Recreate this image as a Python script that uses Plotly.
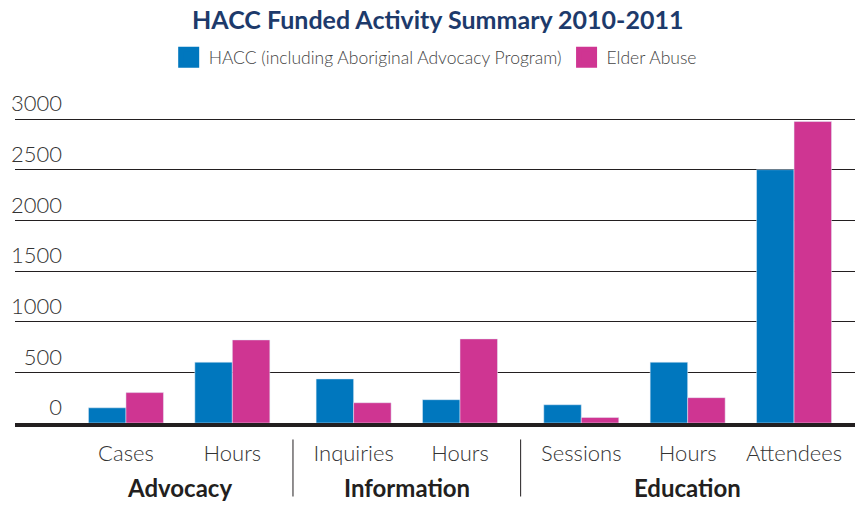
import plotly.graph_objects as go

# activity summary data
groups = ["Advocacy", "Advocacy", "Information", "Information", "Education", "Education", "Education"]
activities = ["Cases", "Hours", "Inquiries", "Hours", "Sessions", "Hours", "Attendees"]
hacc = [150, 600, 435, 230, 180, 600, 2500]
elder_abuse = [300, 820, 200, 830, 55, 250, 2975]
y_ticks = [0, 500, 1000, 1500, 2000, 2500, 3000]

blue = "#0077be"
pink = "#cf3592"
ink = "#231f20"

# x slots: one per activity, with a little extra room between groups
group_names = list(dict.fromkeys(groups))
group_gap = 0.14
xpos = [i + group_gap * group_names.index(g) for i, g in enumerate(groups)]

fig = go.Figure()
fig.add_trace(go.Bar(x=xpos, y=hacc, marker_color=blue, showlegend=False))
fig.add_trace(go.Bar(x=xpos, y=elder_abuse, marker_color=pink, showlegend=False))

# bigger legend squares (marker outline in the same colour makes them larger)
fig.add_trace(go.Scatter(x=[None], y=[None], mode="markers", name="HACC (including Aboriginal Advocacy Program)",
                         marker=dict(symbol="square", size=16, color=blue, line=dict(color=blue, width=5))))
fig.add_trace(go.Scatter(x=[None], y=[None], mode="markers", name="Elder Abuse",
                         marker=dict(symbol="square", size=16, color=pink, line=dict(color=pink, width=5))))

# group names under the activity labels, with dividers between groups
for gi, g in enumerate(group_names):
    members = [xpos[i] for i in range(len(groups)) if groups[i] == g]
    fig.add_annotation(x=sum(members) / len(members), y=-0.211, xref="x", yref="paper",
                       text="<b>" + g + "</b>", showarrow=False, yanchor="middle",
                       font=dict(size=24, color="#231f20", weight=700))
    if gi > 0:
        prev = [xpos[i] for i in range(len(groups)) if groups[i] == group_names[gi - 1]]
        xd = (max(prev) + min(members)) / 2
        fig.add_shape(type="line", xref="x", yref="paper", x0=xd, x1=xd, y0=-0.054, y1=-0.241,
                      line=dict(color=ink, width=1))

fig.update_layout(
    width=855, height=512,
    margin=dict(l=15, r=0, t=118, b=88.5),
    paper_bgcolor="white", plot_bgcolor="white",
    font=dict(family="Lato", color="#333333", weight=300),
    title=dict(text="HACC Funded Activity Summary 2010-2011", xref="container", x=0.512, xanchor="center",
               yref="container", y=0.961, yanchor="middle",
               font=dict(family="Lato", size=25, color="#1d3a6b", weight=700)),
    legend=dict(orientation="h", xref="container", x=0.509, xanchor="center", yref="container", y=0.888,
                yanchor="middle", font=dict(size=17.5, color="#444444")),
    bargap=0.295, bargroupgap=0,
)

fig.update_xaxes(
    range=[-1.043, 6.853], tickvals=xpos, ticktext=activities, automargin=False,
    showline=True, linecolor=ink, linewidth=4, ticklabelstandoff=8,
    showgrid=False, zeroline=False, ticks="", tickfont=dict(size=22, color="#333333"),
)
fig.update_yaxes(
    range=[0, 3010], tickvals=y_ticks, anchor="free", position=0.056, automargin=False,
    ticklabelposition="outside top", ticks="",
    showgrid=True, gridcolor=ink, gridwidth=1.3, zeroline=False, showline=False,
    tickfont=dict(size=22, color="#333333"),
)

# page has a default body margin; drop it so the chart sits at the window corner
fig.write_html("out.html", config={"displayModeBar": False},
               post_script="document.body.style.margin='0';")
